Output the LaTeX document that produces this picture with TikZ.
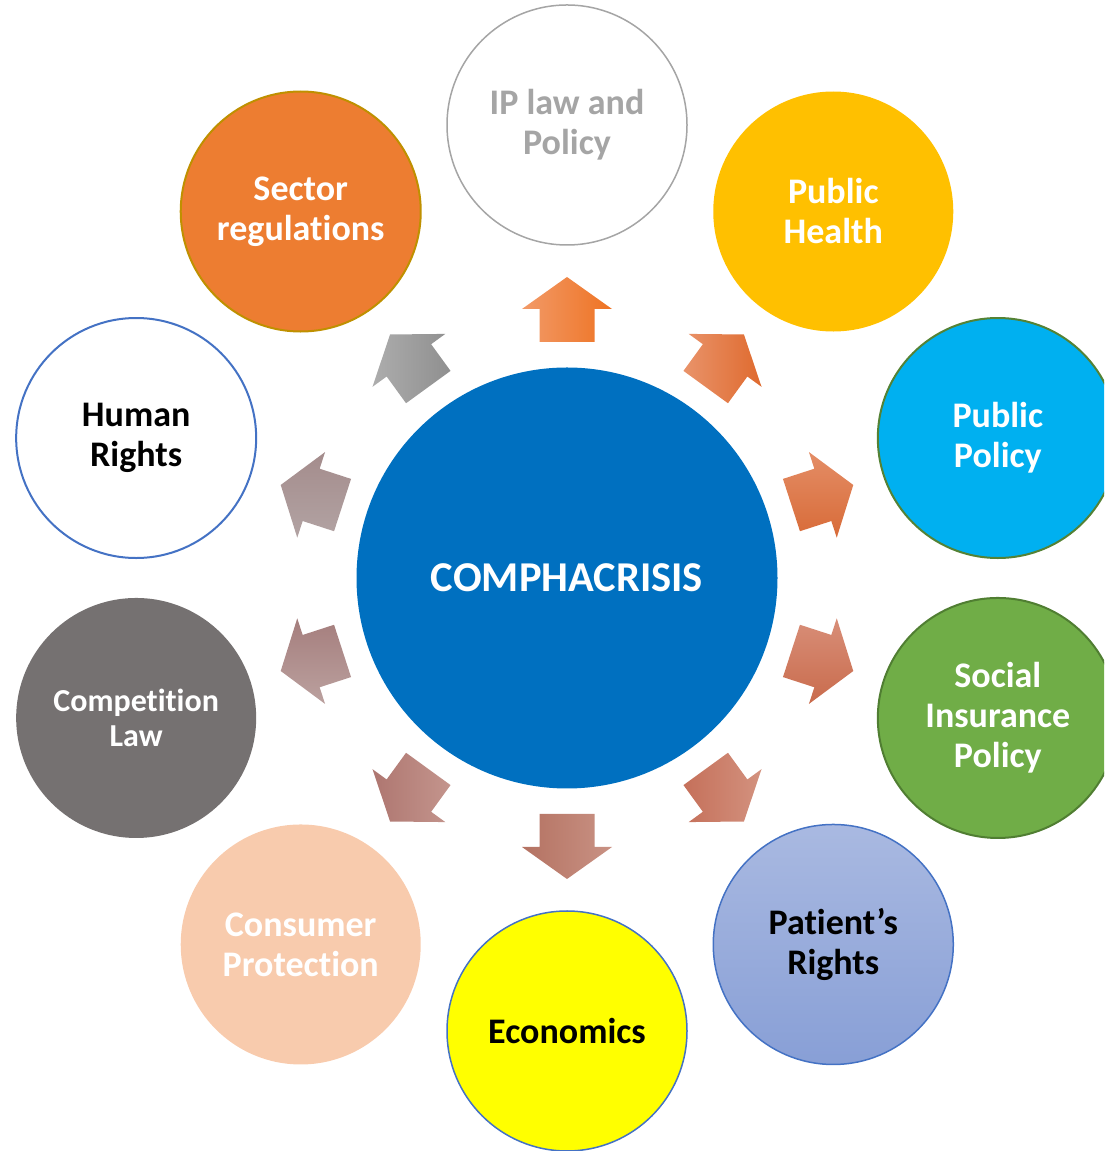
\documentclass[tikz,border=0pt]{standalone}
\usepackage{fontspec}
\usetikzlibrary{calc}
\setmainfont{Carlito}[Ligatures=NoCommon]
\definecolor{mainblue}{HTML}{0070C0}
\definecolor{iptext}{HTML}{A5A5A5}
\definecolor{phfill}{HTML}{FFC000}
\definecolor{ppfill}{HTML}{00B0F0}
\definecolor{ppline}{HTML}{548235}
\definecolor{sifill}{HTML}{70AD47}
\definecolor{siline}{HTML}{507E32}
\definecolor{prtop}{HTML}{A9B9E1}
\definecolor{prbot}{HTML}{889FD6}
\definecolor{accblue}{HTML}{4472C4}
\definecolor{ecofill}{HTML}{FFFF00}
\definecolor{cpfill}{HTML}{F8CBAD}
\definecolor{clfill}{HTML}{757171}
\definecolor{srfill}{HTML}{ED7D31}
\definecolor{srline}{HTML}{BF9000}
% arrow gradient colours
\definecolor{aA}{HTML}{F29A68}\definecolor{bA}{HTML}{EE7323}
\definecolor{aB}{HTML}{E9936A}\definecolor{bB}{HTML}{DF6A2E}
\definecolor{aC}{HTML}{E48D66}\definecolor{bC}{HTML}{D86B38}
\definecolor{aD}{HTML}{D88E78}\definecolor{bD}{HTML}{C96B4C}
\definecolor{aE}{HTML}{C5705A}\definecolor{bE}{HTML}{D3927F}
\definecolor{aF}{HTML}{B47262}\definecolor{bF}{HTML}{C99284}
\definecolor{aG}{HTML}{AE7670}\definecolor{bG}{HTML}{C4958D}
\definecolor{aH}{HTML}{A57E7D}\definecolor{bH}{HTML}{BBA19F}
\definecolor{aI}{HTML}{A48C8C}\definecolor{bI}{HTML}{B2A3A3}
\definecolor{aJ}{HTML}{ADADAD}\definecolor{bJ}{HTML}{8F8F8F}
\begin{document}
\begin{tikzpicture}[x=1pt,y=1pt,
  outer/.style={circle, minimum size=240pt, inner sep=0pt, align=center,
    font=\fontsize{36}{40}\selectfont\bfseries},
  arA/.style={left color=aA, right color=bA},
  arB/.style={left color=aB, right color=bB},
  arC/.style={top color=aC, bottom color=bC},
  arD/.style={top color=aD, bottom color=bD},
  arE/.style={left color=aE, right color=bE},
  arF/.style={left color=aF, right color=bF},
  arG/.style={left color=aG, right color=bG},
  arH/.style={top color=aH, bottom color=bH},
  arI/.style={top color=aI, bottom color=bI},
  arJ/.style={left color=aJ, right color=bJ}]
\useasboundingbox (0,0) rectangle (1104,1151);
\clip (0,0) rectangle (1104,1151);
\coordinate (C) at (567,573);
% block arrows
\foreach \ang/\k in {90/A,54/B,18/C,-18/D,-54/E,-90/F,-126/G,-162/H,162/I,126/J}{
  \shade[ar\k]
      ($(C)+(\ang:236)+(\ang-90:27.5)$) -- ($(C)+(\ang:269)+(\ang-90:27.5)$)
   -- ($(C)+(\ang:269)+(\ang-90:45)$) -- ($(C)+(\ang:301)$)
   -- ($(C)+(\ang:269)+(\ang+90:45)$) -- ($(C)+(\ang:269)+(\ang+90:27.5)$)
   -- ($(C)+(\ang:236)+(\ang+90:27.5)$) -- cycle;
}
% centre
\node[circle, fill=mainblue, minimum size=421pt, inner sep=0pt, text=white,
  font=\fontsize{42.5}{48}\selectfont\bfseries] (centre) at (C) {COMPHACRISIS};
% outer circles
\node[outer, draw=iptext, line width=1.5pt, fill=white, text=iptext] (ip)
  at ($(C)+(90:453)$) {IP law and\\Policy};
\node[outer, fill=phfill, text=white] (ph)
  at ($(C)+(54:453)$) {Public\\Health};
\node[outer, fill=ppfill, draw=ppline, line width=2pt, text=white] (pp)
  at ($(C)+(18:453)$) {Public\\Policy};
\node[outer, fill=sifill, draw=siline, line width=2pt, text=white] (si)
  at ($(C)+(-18:453)$) {Social\\Insurance\\Policy};
\node[outer, top color=prtop, bottom color=prbot, draw=accblue, line width=1.5pt, text=black] (pr)
  at ($(C)+(-54:453)$) {Patient’s\\Rights};
\node[outer, fill=ecofill, draw=accblue, line width=1.5pt, text=black] (eco)
  at ($(C)+(-90:453)$) {Economics};
\node[outer, fill=cpfill, text=white] (cp)
  at ($(C)+(-126:453)$) {Consumer\\Protection};
\node[outer, fill=clfill, text=white, font=\fontsize{32}{35}\selectfont\bfseries] (cl)
  at ($(C)+(-162:453)$) {Competition\\Law};
\node[outer, fill=white, draw=accblue, line width=2pt, text=black] (hr)
  at ($(C)+(162:453)$) {Human\\Rights};
\node[outer, fill=srfill, draw=srline, line width=2pt, text=white] (sr)
  at ($(C)+(126:453)$) {Sector\\regulations};
\end{tikzpicture}
\end{document}
